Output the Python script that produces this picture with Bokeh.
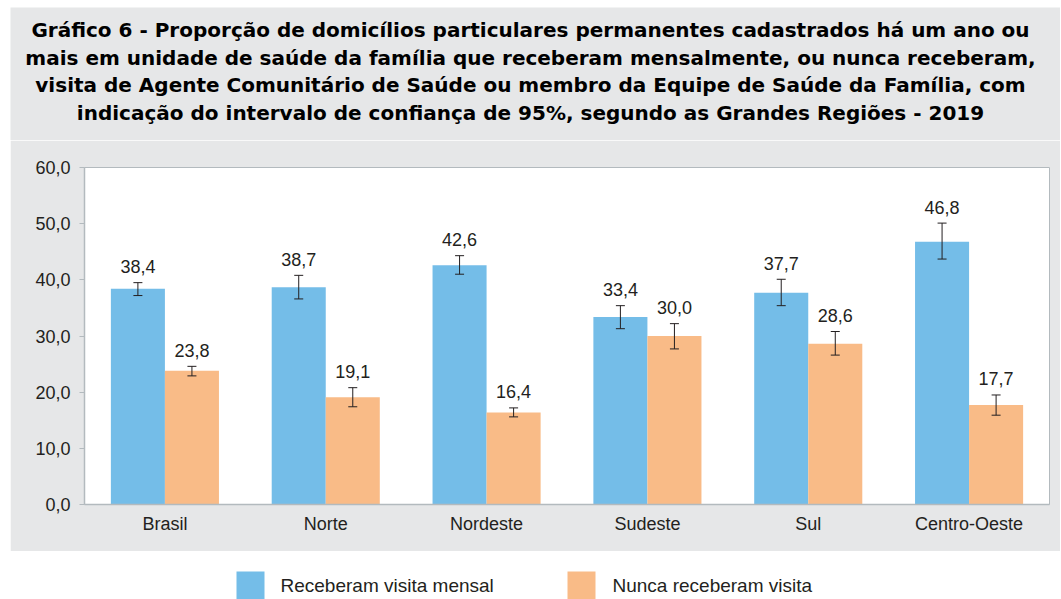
from bokeh.plotting import figure
from bokeh.models import (ColumnDataSource, FactorRange, Range1d, Whisker, TeeHead,
                          CustomJSTickFormatter, FixedTicker, Spacer)
from bokeh.transform import dodge
from bokeh.layouts import column, row
from bokeh.core.properties import value
from bokeh.embed import file_html
from bokeh.resources import INLINE

# ---------------- data ----------------
regions = ["Brasil", "Norte", "Nordeste", "Sudeste", "Sul", "Centro-Oeste"]
mensal = [38.4, 38.7, 42.6, 33.4, 37.7, 46.8]
mensal_lo = [37.2, 36.6, 41.0, 31.3, 35.4, 43.7]
mensal_hi = [39.5, 40.8, 44.3, 35.4, 40.1, 50.1]
nunca = [23.8, 19.1, 16.4, 30.0, 28.6, 17.7]
nunca_lo = [22.9, 17.4, 15.6, 27.7, 26.6, 15.9]
nunca_hi = [24.6, 20.8, 17.2, 32.2, 30.8, 19.5]
series_names = ["Receberam visita mensal", "Nunca receberam visita"]
y_ticks = [0, 10, 20, 30, 40, 50, 60]
title_lines = [
    "Gráfico 6 - Proporção de domicílios particulares permanentes cadastrados há um ano ou",
    "mais em unidade de saúde da família que receberam mensalmente, ou nunca receberam,",
    "visita de Agente Comunitário de Saúde ou membro da Equipe de Saúde da Família, com",
    "indicação do intervalo de confiança de 95%, segundo as Grandes Regiões - 2019",
]

# ---------------- style ----------------
GRAY = "#E6E7E8"
BLUE = "#74BDE8"
ORANGE = "#F9BB87"
AXIS = "#B3BABE"
TXT = "#231F20"
FONT = value("Liberation Sans")
X0 = 10            # page x of the panel's left edge
W = 1050           # panel width
FRAME_L, FRAME_R = 84, 1049

def fmt(v):
    return f"{v:.1f}".replace(".", ",")

src = ColumnDataSource(dict(
    region=regions,
    mensal=mensal, mensal_lo=mensal_lo, mensal_hi=mensal_hi,
    nunca=nunca, nunca_lo=nunca_lo, nunca_hi=nunca_hi,
    mensal_lbl=[fmt(v) for v in mensal],
    nunca_lbl=[fmt(v) for v in nunca],
))

# ---------------- title panel (page-pixel ranges) ----------------
TH = 133
tfig = figure(width=W, height=TH, x_range=Range1d(X0, X0 + W), y_range=Range1d(0, TH),
              x_axis_type=None, y_axis_type=None, toolbar_location=None,
              output_backend="svg", min_border=0, outline_line_color=None,
              border_fill_color=GRAY, background_fill_color=GRAY)
tfig.grid.visible = False
tsrc = ColumnDataSource(dict(x=[530] * 4, y=[110.5, 83, 55.5, 28], t=title_lines))
tfig.text(x="x", y="y", text="t", source=tsrc, text_align="center",
          text_baseline="alphabetic", text_font=value("DejaVu Sans"), text_font_style="bold",
          text_font_size="20px", text_color="#000000")

# ---------------- main chart ----------------
MH = 411
p = figure(x_range=FactorRange(factors=regions), y_range=Range1d(0, 60),
           width=W, height=MH, output_backend="svg", toolbar_location=None,
           min_border_left=FRAME_L - X0, min_border_right=X0 + W - FRAME_R,
           min_border_top=27, min_border_bottom=47,
           border_fill_color=GRAY, background_fill_color="white",
           outline_line_color=AXIS, outline_line_width=1)
p.grid.visible = False

BW = 0.336
OFF = 0.168
p.vbar(x=dodge("region", -OFF, range=p.x_range), top="mensal", width=BW, source=src,
       fill_color=BLUE, line_color=None)
p.vbar(x=dodge("region", OFF, range=p.x_range), top="nunca", width=BW, source=src,
       fill_color=ORANGE, line_color=None)

for off, lo, hi in [(-OFF, "mensal_lo", "mensal_hi"), (OFF, "nunca_lo", "nunca_hi")]:
    w = Whisker(source=src, base=dodge("region", off, range=p.x_range), lower=lo, upper=hi,
                line_color=TXT, line_width=1, level="overlay",
                upper_head=TeeHead(size=9, line_color=TXT, line_width=1),
                lower_head=TeeHead(size=9, line_color=TXT, line_width=1))
    p.add_layout(w)

for off, hi, lbl in [(-OFF, "mensal_hi", "mensal_lbl"), (OFF, "nunca_hi", "nunca_lbl")]:
    p.text(x=dodge("region", off, range=p.x_range), y=hi, text=lbl, source=src,
           y_offset=-16, text_align="center", text_baseline="alphabetic",
           text_font=FONT, text_font_size="18px", text_color=TXT)

p.yaxis.ticker = FixedTicker(ticks=y_ticks)
p.yaxis.formatter = CustomJSTickFormatter(code="return tick.toFixed(1).replace('.', ',');")
p.yaxis.minor_tick_line_color = None
p.yaxis.major_tick_in = 0
p.yaxis.major_tick_out = 5
p.yaxis.major_label_standoff = 9
p.yaxis.major_tick_line_color = AXIS
p.xaxis.major_tick_line_color = None
p.xaxis.major_tick_out = 0
p.xaxis.major_tick_in = 0
p.xaxis.major_label_standoff = 9
for ax in (p.xaxis, p.yaxis):
    ax.axis_line_color = AXIS
    ax.axis_line_width = 1.5
    ax.major_label_text_font = "Liberation Sans"
    ax.major_label_text_font_size = "18px"
    ax.major_label_text_color = TXT

# ---------------- legend panel (page-pixel ranges) ----------------
LH = 48
leg = figure(width=W, height=LH, x_range=Range1d(X0, X0 + W), y_range=Range1d(0, LH),
             x_axis_type=None, y_axis_type=None, toolbar_location=None,
             output_backend="svg", min_border=0, outline_line_color=None,
             border_fill_color="white", background_fill_color="white")
leg.grid.visible = False
lsrc = ColumnDataSource(dict(
    gx=[250, 581], gy=[14, 14], tx=[280, 612], ty=[14, 14],
    color=[BLUE, ORANGE], label=series_names))
leg.rect(x="gx", y="gy", width=28, height=28, source=lsrc, fill_color="color", line_color=None)
leg.text(x="tx", y="ty", text="label", source=lsrc, text_align="left",
         text_baseline="middle", text_font=FONT, text_font_size="19px", text_color=TXT)

layout = row(Spacer(width=X0, height=7 + TH + MH + LH),
             column(Spacer(width=W, height=7), row(tfig), row(p), row(leg), spacing=0),
             spacing=0)
open("out.html", "w").write(file_html(layout, INLINE))
